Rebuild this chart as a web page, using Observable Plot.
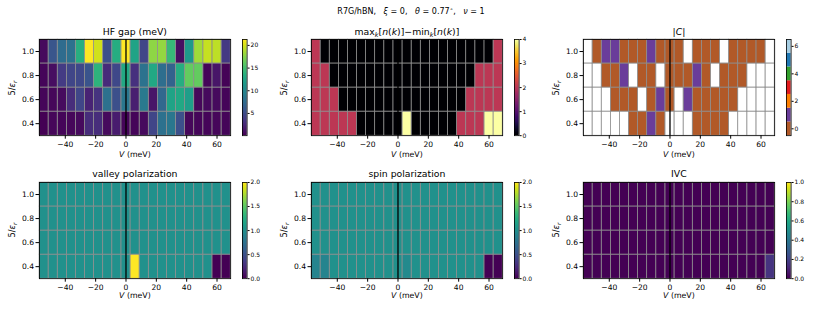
<!DOCTYPE html>
<html><head><meta charset="utf-8">
<script src="https://cdn.jsdelivr.net/npm/d3@7"></script>
<script src="https://cdn.jsdelivr.net/npm/@observablehq/plot@0.6"></script>
<style>
body{margin:0;background:#fff;}
#fig{position:relative;width:830px;height:312px;font-family:"DejaVu Sans",sans-serif;color:#000;overflow:hidden;background:#fff;}
.t{position:absolute;white-space:nowrap;line-height:1;transform:translateX(-50%);}
.yl{position:absolute;white-space:nowrap;line-height:1;transform:translate(-50%,-50%) rotate(-90deg);}
sub{font-size:0.7em;vertical-align:-0.3em;line-height:0;}
sup{font-size:0.7em;vertical-align:0.5em;line-height:0;}
svg{position:absolute;}
</style></head><body><div id="fig"></div>
<script>
// ---------- data ----------
const V = [-54,-48,-42,-36,-30,-24,-18,-12,-6,0,6,12,18,24,30,36,42,48,54,60,66];
const EPS = [0.4,0.6,0.8,1.0];
const vTicks = [-40,-20,0,20,40,60];
const epsTicks = [0.4,0.6,0.8,1.0];

// rows: 5/eps = 0.4, 0.6, 0.8, 1.0
const hfGap = [
  [0.1,0.5,0.4,0.5,0.6,2.8,2.8,0.6,1.7,0.4,0.4,0.6,4.5,7.9,8.5,5.3,0.5,0.4,0.4,0.5,0.4],
  [0.4,0.5,0.7,2.8,4.5,2.1,3.2,7.9,5.3,8.5,1.9,8.7,1.3,7.2,12.4,12.8,11.9,0.5,0.6,0.6,0.4],
  [0.4,0.9,3.8,4.5,4.7,5.6,13.8,2.6,4.7,12.8,3.0,8.1,12.8,7.7,6.8,13.2,16.2,16.2,0.4,1.3,0.3],
  [0.6,5.8,7.5,7.9,13.4,21.3,19.8,5.3,13.2,21.3,12.4,4.5,17.7,17.9,14.3,0.9,11.5,18.3,19.4,19.2,3.6]
];
const nSpread = [
  [2,2,2,2,2,0,0,0,0,0,4,0,0,0,0,0,2,2,2,4,4],
  [2,2,2,0,0,0,0,0,0,0,0,0,0,0,0,0,0,2,2,2,2],
  [2,2,0,0,0,0,0,0,0,0,0,0,0,0,0,0,0,0,2,2,2],
  [2,0,0,0,0,0,0,0,0,0,0,0,0,0,0,0,0,0,0,0,2]
];
const chern = [
  [null,null,null,null,null,0,0,1,0,null,null,null,0,0,0,0,null,null,null,null,null],
  [null,null,null,0,0,0,null,0,1,0,null,1,0,0,0,0,0,null,null,null,null],
  [null,null,0,0,1,null,0,0,null,0,0,0,1,0,null,0,0,0,null,null,null],
  [null,0,1,1,0,0,0,1,0,0,0,null,0,0,0,null,0,0,0,0,null]
];
const valleyPol = [
  [1,1,1,1,1,1,1,1,1,1,2,1,1,1,1,1,1,1,1,0,0],
  [1,1,1,1,1,1,1,1,1,1,1,1,1,1,1,1,1,1,1,1,1],
  [1,1,1,1,1,1,1,1,1,1,1,1,1,1,1,1,1,1,1,1,1],
  [1,1,1,1,1,1,1,1,1,1,1,1,1,1,1,1,1,1,1,1,1]
];
const spinPol = [
  [0.9,0.9,1,1,1,1,1,1,1,1,0.95,1,1,1,1,1,1,1,1,0,0],
  [1,1,1,1,1,1,1,1,1,1,1,1,1,1,1,1,1,1,1,1,1],
  [1,1,1,1,1,1,1,1,1,1,1,1,1,1,1,1,1,1,1,1,1],
  [1,1,1,1,1,1,1,1,1,1,1,1,1,1,1,1,1,1,1,1,1]
];
const ivc = [
  [0,0,0,0,0,0,0,0,0,0,0,0,0,0,0,0,0,0,0,0,0.15],
  [0,0,0,0,0,0,0,0,0,0,0,0,0,0,0,0,0,0,0,0,0],
  [0,0,0,0,0,0,0,0,0,0,0,0,0,0,0,0,0,0,0,0,0],
  [0,0,0,0,0,0,0,0,0,0,0,0,0,0,0,0,0,0,0,0,0]
];
const chernLevels = [0,1,2,3,4,5,6];
const chernColors = ["#b15928","#6a3d9a","#ff7f00","#e31a1c","#33a02c","#1f78b4","#a6cee3"];

const hfTicks = [5,10,15,20];
const nTicks = [0,1,2,3,4];
const chernTicks = [0,2,4,6];
const polTicks = [0,0.5,1,1.5,2];
const ivcTicks = [0,0.2,0.4,0.6,0.8,1.0];

// ---------- layout ----------
const FONT = "DejaVu Sans";
const ROW_TOP = [39.4, 181.6];
const PH = 96.2, PW = 191.2;
const COL_LEFT = [39.3, 311.3, 583.3];
const CB_LEFT = [242.3, 514.3, 786.0];
const CBW = 4.6;

const fig = document.getElementById("fig");
const fmtV = d => d < 0 ? "\u2212" + Math.abs(d) : String(d);
const dv = (V[1]-V[0])/2, de = (EPS[1]-EPS[0])/2;

function cellsOf(values) {
  const out = [];
  EPS.forEach((e, i) => V.forEach((v, j) => out.push({v, e, val: values[i][j]})));
  return out;
}

function drawPanel(p) {
  const ML = 40, MR = 6, MT = 6, MB = 22;
  const cells = cellsOf(p.values);
  const box = {x1: d => d.v - dv, x2: d => d.v + dv, y1: d => d.e - de, y2: d => d.e + de};
  const svg = Plot.plot({
    width: PW + ML + MR, height: PH + MT + MB,
    marginLeft: ML, marginRight: MR, marginTop: MT, marginBottom: MB,
    style: {fontFamily: FONT, fontSize: "7.6px", background: "none", color: "black", overflow: "visible"},
    x: {domain: [V[0] - dv, V[V.length-1] + dv]},
    y: {domain: [EPS[0] - de, EPS[EPS.length-1] + de]},
    color: p.color,
    marks: [
      Plot.rect(cells.filter(d => d.val !== null), {...box, fill: "val"}),
      Plot.rect(cells, {...box, fill: "none", stroke: "#8c8c8c", strokeWidth: 0.6}),
      Plot.ruleX([0], {stroke: "black", strokeWidth: 1.3}),
      Plot.frame({stroke: "black", strokeWidth: 0.8}),
      Plot.axisX({ticks: vTicks, tickFormat: fmtV, tickSize: 3.5, tickPadding: 2, label: null}),
      Plot.axisY({ticks: epsTicks, tickFormat: d3.format(".1f"), tickSize: 3.5, tickPadding: 2, label: null})
    ]
  });
  svg.style.left = (COL_LEFT[p.col] - ML) + "px";
  svg.style.top = (ROW_TOP[p.row] - MT) + "px";
  fig.appendChild(svg);
}

function drawColorbar(p) {
  const MT = 6, MB = 6, MR = 26;
  const [lo, hi] = p.cbDomain;
  let stripes;
  if (p.levels) {
    stripes = p.levels.map(v => ({y1: v - 0.5, y2: v + 0.5, v}));
  } else {
    const N = 96;
    stripes = d3.range(N).map(k => ({y1: lo + (hi-lo)*k/N, y2: Math.min(hi, lo + (hi-lo)*(k+1.6)/N), v: lo + (hi-lo)*(k+0.5)/N}));
  }
  const svg = Plot.plot({
    width: CBW + MR, height: PH + MT + MB,
    marginLeft: 0, marginRight: MR, marginTop: MT, marginBottom: MB,
    style: {fontFamily: FONT, fontSize: "6px", background: "none", color: "black", overflow: "visible"},
    x: {domain: [0, 1], axis: null},
    y: {domain: [lo, hi]},
    color: p.color,
    marks: [
      Plot.rect(stripes, {x1: 0, x2: 1, y1: "y1", y2: "y2", fill: "v"}),
      Plot.frame({stroke: "black", strokeWidth: 0.8}),
      Plot.axisY({anchor: "right", ticks: p.cbTicks, tickFormat: p.cbFmt, tickSize: 2, tickPadding: 1.5, label: null})
    ]
  });
  svg.style.left = CB_LEFT[p.col] + "px";
  svg.style.top = (ROW_TOP[p.row] - MT) + "px";
  fig.appendChild(svg);
}

function addText(html, x, baseline, fs, cls) {
  const d = document.createElement("div");
  d.className = cls || "t";
  d.style.fontSize = fs + "px";
  d.style.left = x + "px";
  d.style.top = (baseline - 0.846 * fs) + "px";
  d.innerHTML = html;
  fig.appendChild(d);
}

const panels = [
  {title: "HF gap (meV)", values: hfGap, col: 0, row: 0,
   color: {type: "linear", domain: [0.1, 21.3], scheme: "viridis"}, cbDomain: [0.1, 21.3], cbTicks: hfTicks, cbFmt: d3.format("d")},
  {title: "max<sub><i>k</i></sub>[<i>n</i>(<i>k</i>)]\u2212min<sub><i>k</i></sub>[<i>n</i>(<i>k</i>)]", values: nSpread, col: 1, row: 0,
   color: {type: "linear", domain: [0, 4], scheme: "inferno"}, cbDomain: [0, 4], cbTicks: nTicks, cbFmt: d3.format("d")},
  {title: "|<i>C</i>|", values: chern, col: 2, row: 0,
   color: {type: "ordinal", domain: chernLevels, range: chernColors}, cbDomain: [-0.5, 6.5], levels: chernLevels, cbTicks: chernTicks, cbFmt: d3.format("d")},
  {title: "valley polarization", values: valleyPol, col: 0, row: 1,
   color: {type: "linear", domain: [0, 2], scheme: "viridis"}, cbDomain: [0, 2], cbTicks: polTicks, cbFmt: d3.format(".1f")},
  {title: "spin polarization", values: spinPol, col: 1, row: 1,
   color: {type: "linear", domain: [0, 2], scheme: "viridis"}, cbDomain: [0, 2], cbTicks: polTicks, cbFmt: d3.format(".1f")},
  {title: "IVC", values: ivc, col: 2, row: 1,
   color: {type: "linear", domain: [0, 1], scheme: "viridis"}, cbDomain: [0, 1], cbTicks: ivcTicks, cbFmt: d3.format(".1f")}
];

panels.forEach(p => {
  drawPanel(p);
  drawColorbar(p);
  const cx = COL_LEFT[p.col] + PW / 2;
  addText(p.title, cx, ROW_TOP[p.row] - 4.5, 9.3);
  addText("<i>V</i> (meV)", cx, ROW_TOP[p.row] + PH + (p.row === 0 ? 21.5 : 20.5), 7.8);
  const yl = document.createElement("div");
  yl.className = "yl";
  yl.style.fontSize = "8.2px";
  yl.style.left = (COL_LEFT[p.col] - 27.6) + "px";
  yl.style.top = (ROW_TOP[p.row] + PH / 2) + "px";
  yl.innerHTML = "5/<i>\u03b5</i><sub><i>r</i></sub>";
  fig.appendChild(yl);
});

addText("R7G/hBN,&nbsp;&nbsp; <i>\u03be</i> = 0,&nbsp;&nbsp; <i>\u03b8</i> = 0.77<sup>\u2218</sup>,&nbsp;&nbsp; <i>\u03bd</i> = 1", 411, 14.5, 8);
</script></body></html>
